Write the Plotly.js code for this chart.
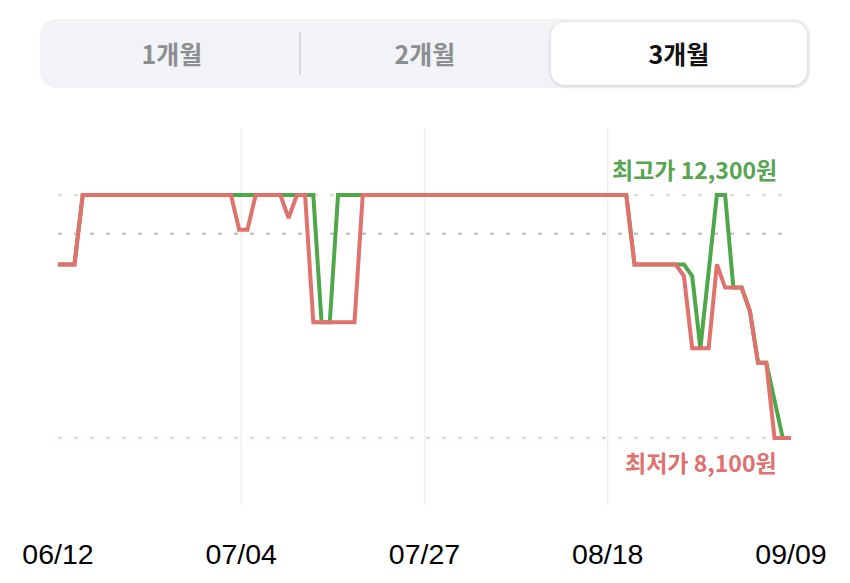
<!DOCTYPE html>
<html>
<head>
<meta charset="utf-8">
<script src="https://cdn.plot.ly/plotly-3.0.1.min.js"></script>
<style>
html, body { margin: 0; padding: 0; background: #fff; }
#wrap { position: relative; width: 850px; height: 583px; overflow: hidden; }
#chart { position: absolute; left: 0; top: 0; width: 850px; height: 583px; }
#tabs { position: absolute; left: 40px; top: 19px; width: 770px; height: 69px; background: #f2f3f6;
        border-radius: 16px; z-index: 2; font-family: "Noto Sans CJK KR", sans-serif; }
.tab { position: absolute; top: 0; height: 69px; line-height: 69px; text-align: center;
       font-size: 25px; font-weight: 700; color: #8d8e92; }
.tab.on { top: 3px; height: 63px; line-height: 63px; background: #fff; border-radius: 14px;
          color: #111; box-shadow: 0 1px 4px rgba(0,0,0,0.16); }
.sep { position: absolute; left: 259px; top: 13px; width: 2px; height: 43px; background: #d8d9dc; }
</style>
</head>
<body>
<div id="wrap">
  <div id="tabs">
    <div class="tab" style="left:0;width:264px;">1개월</div>
    <div class="sep"></div>
    <div class="tab" style="left:259px;width:252px;">2개월</div>
    <div class="tab on" style="left:511px;width:256px;">3개월</div>
  </div>
  <div id="chart"></div>
</div>
<script>
// day index counted from 06/12
var tickLabels = ['06/12', '07/04', '07/27', '08/18', '09/09'];
var lastDay = 89;

// 최고가 (high) series
var highDays = [0, 2, 3, 31, 32, 33, 34, 69, 70, 76, 77, 78, 80, 81, 82, 83, 84, 85, 86, 88, 89];
var highPrices = [11100, 11100, 12300, 12300, 10100, 10100, 12300, 12300, 11100, 11100, 10900,
                  9650, 12300, 12300, 10700, 10700, 10300, 9400, 9400, 8100, 8100];

// 최저가 (low) series
var lowDays = [0, 2, 3, 21, 22, 23, 24, 27, 28, 29, 30, 31, 36, 37, 69, 70, 75, 76, 77, 79,
               80, 81, 83, 84, 85, 86, 87, 89];
var lowPrices = [11100, 11100, 12300, 12300, 11700, 11700, 12300, 12300, 11900, 12300, 12300,
                 10100, 10100, 12300, 12300, 11100, 11100, 10900, 9650, 9650, 11100, 10700,
                 10700, 10300, 9400, 9400, 8100, 8100];

var avgPrice = 11630;

var GREEN = '#4fa74a';
var RED = '#e0716d';

var maxPrice = Math.max.apply(null, highPrices);
var minPrice = Math.min.apply(null, lowPrices);
var pad = (maxPrice - minPrice) * 0.2757;

function won(v) {
    return String(v).replace(/\B(?=(\d{3})+(?!\d))/g, ',') + '원';
}

var tickVals = tickLabels.map(function (t, i) { return lastDay * i / (tickLabels.length - 1); });

var traces = [
    {x: highDays, y: highPrices, type: 'scatter', mode: 'lines', line: {color: GREEN, width: 4}},
    {x: lowDays, y: lowPrices, type: 'scatter', mode: 'lines', line: {color: RED, width: 4}}
];

var shapes = [];
tickVals.slice(1, -1).forEach(function (v) {
    shapes.push({type: 'line', xref: 'x', yref: 'paper', x0: v, x1: v, y0: 0, y1: 1,
                 line: {color: '#f0f0f0', width: 1.5}, layer: 'below'});
});
var refLines = [[maxPrice, '#d5e3d3'], [avgPrice, '#c8c8c8'], [minPrice, '#f2d2d1']];
refLines.forEach(function (r) {
    shapes.push({type: 'line', xref: 'x', yref: 'y', x0: 0, x1: lastDay, y0: r[0], y1: r[0],
                 line: {color: r[1], width: 2.4, dash: '4px,12px'}, layer: 'below'});
});

var layout = {
    width: 850, height: 583,
    margin: {l: 58, r: 59, t: 128, b: 78},
    paper_bgcolor: 'rgba(0,0,0,0)', plot_bgcolor: '#fff',
    showlegend: false,
    hovermode: false,
    xaxis: {
        range: [0, lastDay], tickvals: tickVals, ticktext: tickLabels,
        showgrid: false, zeroline: false, showline: false, ticks: '',
        ticklabelstandoff: 29,
        tickfont: {family: 'Liberation Sans, Arial, sans-serif', size: 28.5, color: '#000'},
        fixedrange: true
    },
    yaxis: {
        range: [minPrice - pad, maxPrice + pad],
        showgrid: false, zeroline: false, showticklabels: false, fixedrange: true
    },
    shapes: shapes,
    annotations: [
        {xref: 'paper', yref: 'y', x: 1, y: maxPrice, xanchor: 'right', yanchor: 'middle',
         xshift: -12, yshift: 26, showarrow: false, text: '<b>최고가 ' + won(maxPrice) + '</b>',
         font: {family: 'Noto Sans CJK KR', size: 23, color: '#57a550'}},
        {xref: 'paper', yref: 'y', x: 1, y: minPrice, xanchor: 'right', yanchor: 'middle',
         xshift: -12, yshift: -24, showarrow: false, text: '<b>최저가 ' + won(minPrice) + '</b>',
         font: {family: 'Noto Sans CJK KR', size: 23, color: '#df706c'}}
    ]
};

Plotly.newPlot('chart', traces, layout, {displayModeBar: false, staticPlot: true});
</script>
</body>
</html>
